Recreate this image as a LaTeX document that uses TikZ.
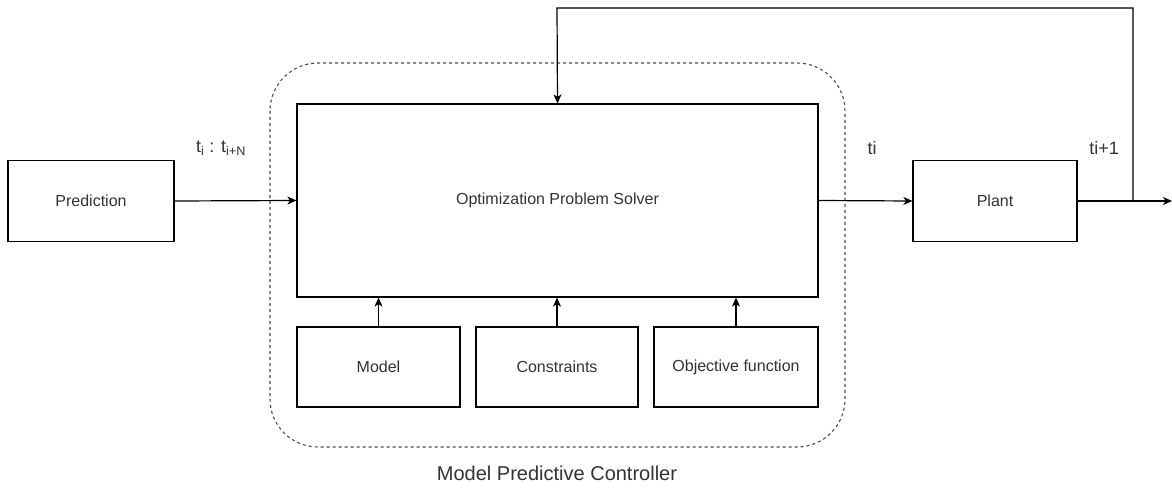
\documentclass[tikz,border=0pt]{standalone}
\usepackage{fontspec}
\setmainfont{Liberation Sans}
\usetikzlibrary{arrows.meta}
\definecolor{txt}{HTML}{333333}
\tikzset{
  blk/.style={draw=black, line width=1.2pt, fill=white, inner sep=0pt, text=txt, font=\fontsize{16}{19}\selectfont},
  conn/.style={draw=black, line width=1.2pt, -{Stealth[length=9pt,width=8pt,inset=2.5pt]}},
  lbl/.style={text=txt, font=\fontsize{18}{21}\selectfont, inner sep=0pt},
}
\begin{document}
\begin{tikzpicture}[x=1pt,y=-1pt]
\useasboundingbox[fill=white] (0,0) rectangle (1172,489);
% dashed controller frame
\draw[dashed, draw=black!70, line width=1.1pt, rounded corners=48pt] (270,63) rectangle (845,447);
\node[text=txt, font=\fontsize{20}{23}\selectfont] (mpc) at (557,473) {Model Predictive Controller};
% boxes
\node[blk, minimum width=166pt, minimum height=81pt] (pred) at (91,201) {Prediction};
\node[blk, minimum width=521pt, minimum height=193pt] (solver) at (557.5,200.5) {Optimization Problem Solver};
\node[blk, minimum width=164pt, minimum height=81pt] (plant) at (995,201) {Plant};
\node[blk, minimum width=163pt, minimum height=80pt] (model) at (378.5,367) {Model};
\node[blk, minimum width=162pt, minimum height=80pt] (cons) at (557,367) {Constraints};
\node[blk, minimum width=164pt, minimum height=80pt] (obj) at (736,367) {Objective function};
% connectors
\coordinate (branch) at (1133,201);
\coordinate (out) at (1172,201);
\coordinate (topR) at (1133,8);
\coordinate (topL) at (557,8);
\draw[conn] (pred.east) -- (solver.west);
\draw[conn] (solver.east) -- (plant.west);
\draw[conn] (plant.east) -- (out);
\draw[conn] (branch) -- (topR) -- (topL) -- (solver.north);
\draw[conn] (model.north) -- (model.north |- solver.south);
\draw[conn] (cons.north) -- (cons.north |- solver.south);
\draw[conn] (obj.north) -- (obj.north |- solver.south);
% labels
\node[lbl] (l1) at (221,148) {t\textsubscript{i} : t\textsubscript{i+N}};
\node[lbl] (l2) at (872,148) {ti};
\node[lbl] (l3) at (1104,148) {ti+1};
\end{tikzpicture}
\end{document}
